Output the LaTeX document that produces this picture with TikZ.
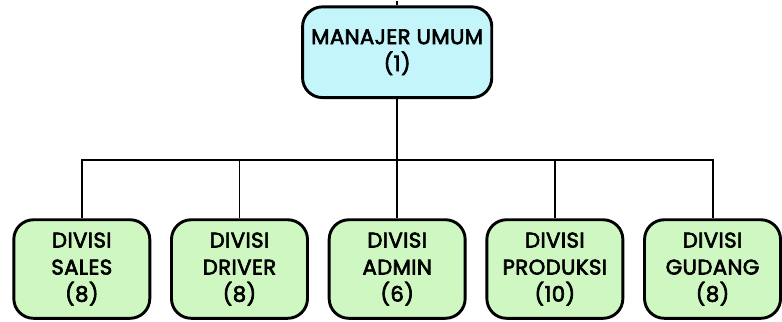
\documentclass[tikz,border=0pt]{standalone}
\usepackage{fontspec}
\setmainfont{Poppins}[FakeBold=3, LetterSpace=2]
\usepackage{xcolor}
\usetikzlibrary{calc}
\definecolor{topfill}{RGB}{196,245,250}
\definecolor{divfill}{RGB}{207,247,194}
\tikzset{
    box/.style={draw=black, line width=2.1pt, rounded corners=0.5cm, align=center,
        inner sep=0pt, font=\fontsize{15.3}{19.5}\selectfont},
    headbox/.style={box, fill=topfill, minimum width=4.8cm, minimum height=2.3cm},
    divbox/.style={box, fill=divfill, minimum width=3.45cm, minimum height=2.5cm},
    link/.style={line width=1.4pt},
}

\begin{document}
\begin{tikzpicture}
        \node[headbox] (manajer) at (10.075,6.825) {MANAJER UMUM\\(1)};
        \foreach \i/\nama/\jml [evaluate={\x=2.075+4*(\i-1)}] in
            {1/SALES/8, 2/DRIVER/8, 3/ADMIN/6, 4/PRODUKSI/10, 5/GUDANG/8}
            \node[divbox] (d\i) at (\x,1.325) {DIVISI\\\nama\\(\jml)};
        \coordinate (stub) at (10.075,8.125);
        \coordinate (bar) at (10.075,4.1);
        \draw[link] (stub) -- (manajer);
        \draw[link] (manajer) -- (bar);
        \foreach \i in {1,...,5} \draw[link] (bar) -| (d\i);
        \useasboundingbox (0,0) rectangle (19.55,8.125);
    \end{tikzpicture}
\end{document}
